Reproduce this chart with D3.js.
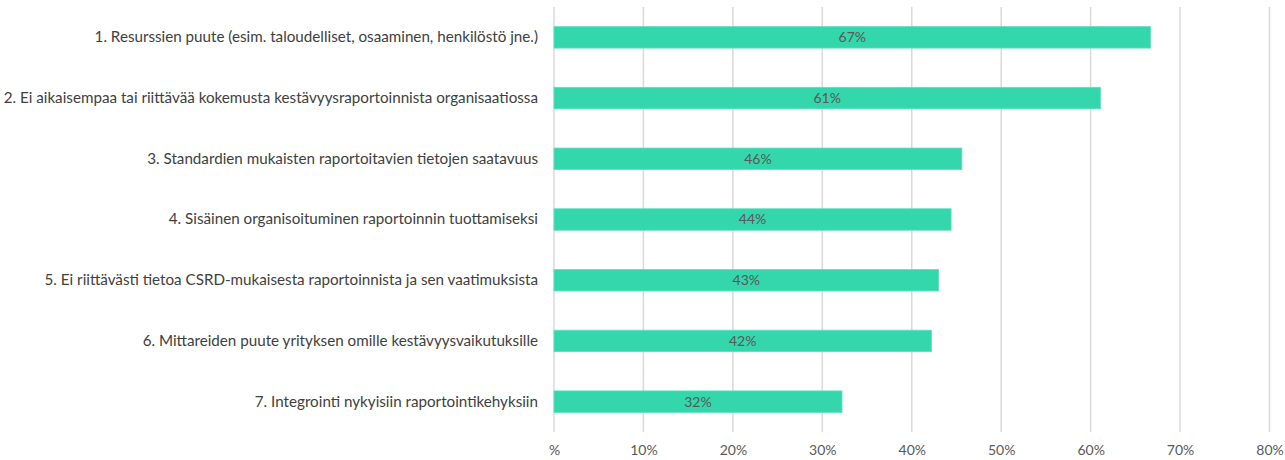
<!DOCTYPE html>
<html>
<head>
<meta charset="utf-8">
<script src="https://cdn.jsdelivr.net/npm/d3@7"></script>
<style>
body{margin:0;background:#fff;}
svg text{font-family:Lato,"Open Sans",sans-serif;}
</style>
</head>
<body>
<div id="chart"></div>
<script>
var categories=[
  "1. Resurssien puute (esim. taloudelliset, osaaminen, henkilöstö jne.)",
  "2. Ei aikaisempaa tai riittävää kokemusta kestävyysraportoinnista organisaatiossa",
  "3. Standardien mukaisten raportoitavien tietojen saatavuus",
  "4. Sisäinen organisoituminen raportoinnin tuottamiseksi",
  "5. Ei riittävästi tietoa CSRD-mukaisesta raportoinnista ja sen vaatimuksista",
  "6. Mittareiden puute yrityksen omille kestävyysvaikutuksille",
  "7. Integrointi nykyisiin raportointikehyksiin"
];
var values=[66.7,61.1,45.6,44.4,43.0,42.2,32.2];
var tickValues=[0,10,20,30,40,50,60,70,80];
var tickLabels=["%","10%","20%","30%","40%","50%","60%","70%","80%"];

var wide=1285;
var high=460;
var edgeLeft=554;
var edgeRight=wide-1269.5;
var edgeTop=7;
var edgeBottom=high-432;

var svg=d3.select("#chart")
  .append("svg")
  .attr("width",wide)
  .attr("height",high);

var xscale=d3.scaleLinear()
  .domain([0,80])
  .range([edgeLeft,wide-edgeRight]);
var yscale=d3.scaleBand()
  .domain(categories)
  .range([edgeTop,high-edgeBottom])
  .paddingInner(0.646)
  .paddingOuter(0.323);

// gridlines
svg.append("g")
  .selectAll("line")
  .data(tickValues)
  .enter()
  .append("line")
  .attr("x1",function(d){return xscale(d);})
  .attr("x2",function(d){return xscale(d);})
  .attr("y1",edgeTop)
  .attr("y2",high-edgeBottom)
  .style("stroke","#d9d9d9")
  .style("stroke-width",1.5);

// x tick labels
var xaxis=d3.axisBottom(xscale)
  .tickValues(tickValues)
  .tickSize(0)
  .tickPadding(13)
  .tickFormat(function(d,i){return tickLabels[i];});
var gx=svg.append("g")
  .attr("transform","translate(0,"+(high-edgeBottom)+")")
  .call(xaxis);
gx.select(".domain").remove();
gx.selectAll("text")
  .style("font-size","14px")
  .style("fill","#595959");

// y labels
var yaxis=d3.axisLeft(yscale).tickSize(0).tickPadding(16);
var gy=svg.append("g")
  .attr("transform","translate("+edgeLeft+",0)")
  .call(yaxis);
gy.select(".domain").remove();
gy.selectAll("text")
  .style("font-size","15.2px")
  .style("fill","#404040");

// bars
svg.append("g")
  .selectAll("rect")
  .data(values)
  .enter()
  .append("rect")
  .attr("x",xscale(0))
  .attr("y",function(d,i){return yscale(categories[i]);})
  .attr("width",function(d){return xscale(d)-xscale(0);})
  .attr("height",yscale.bandwidth())
  .style("fill","#34d6ac")
  .style("stroke","#5fe0bd")
  .style("stroke-width",0.8);

// value labels
svg.append("g")
  .selectAll("text")
  .data(values)
  .enter()
  .append("text")
  .attr("x",function(d){return (xscale(0)+xscale(d))/2;})
  .attr("y",function(d,i){return yscale(categories[i])+yscale.bandwidth()/2;})
  .attr("dy","0.35em")
  .attr("text-anchor","middle")
  .style("font-size","14px")
  .style("fill","#595959")
  .text(function(d){return Math.round(d)+"%";});
</script>
</body>
</html>
